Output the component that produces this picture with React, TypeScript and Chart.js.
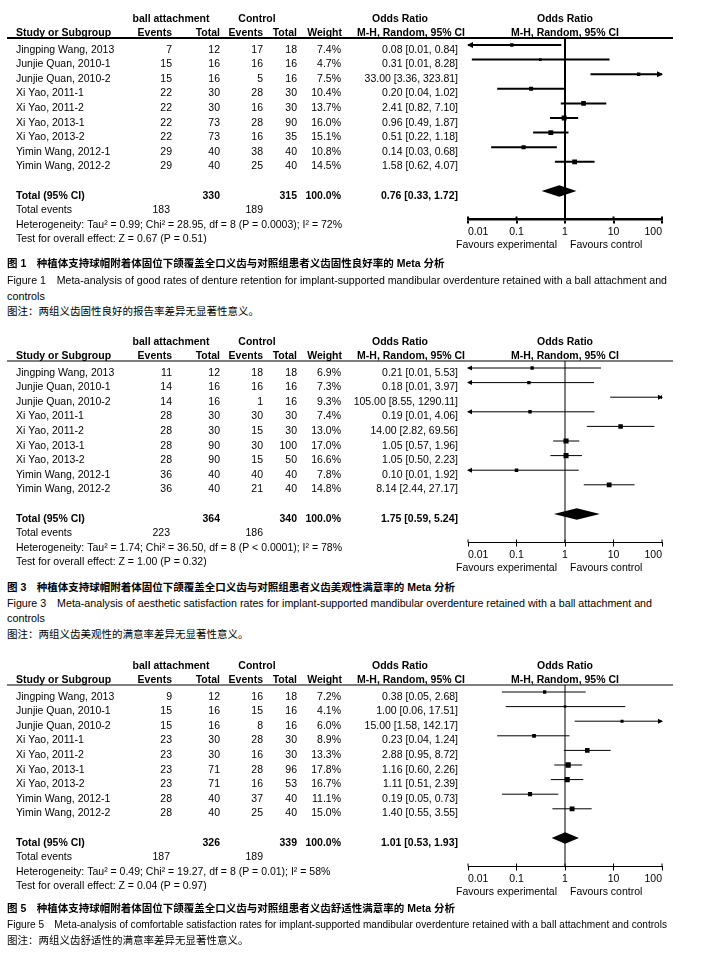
import React, { useEffect, useLayoutEffect, useRef } from "react";
import { Chart, registerables } from "chart.js";

Chart.register(...registerables);

// ---------- data ----------
const STUDIES = [
  "Jingping Wang, 2013",
  "Junjie Quan, 2010-1",
  "Junjie Quan, 2010-2",
  "Xi Yao, 2011-1",
  "Xi Yao, 2011-2",
  "Xi Yao, 2013-1",
  "Xi Yao, 2013-2",
  "Yimin Wang, 2012-1",
  "Yimin Wang, 2012-2",
];
const TICK_VALUES = [0.01, 0.1, 1, 10, 100];
const TICK_LABELS = ["0.01", "0.1", "1", "10", "100"];
const TOTAL_WEIGHT = 100.0;

// Figure 1: good rates of denture retention
const F1_EXP_EVENTS = [7, 15, 15, 22, 22, 22, 22, 29, 29];
const F1_EXP_TOTAL = [12, 16, 16, 30, 30, 73, 73, 40, 40];
const F1_CTL_EVENTS = [17, 16, 5, 28, 16, 28, 16, 38, 25];
const F1_CTL_TOTAL = [18, 16, 16, 30, 30, 90, 35, 40, 40];
const F1_WEIGHT = [7.4, 4.7, 7.5, 10.4, 13.7, 16.0, 15.1, 10.8, 14.5];
const F1_OR = [0.08, 0.31, 33.0, 0.2, 2.41, 0.96, 0.51, 0.14, 1.58];
const F1_LOW = [0.008, 0.012, 3.36, 0.04, 0.82, 0.49, 0.22, 0.03, 0.62];
const F1_HIGH = [0.84, 8.28, 323.81, 1.02, 7.1, 1.87, 1.18, 0.68, 4.07];
const F1_TOTALS = [330, 315];
const F1_TOTAL_EVENTS = [183, 189];
const F1_POOLED = [0.76, 0.33, 1.72];
const F1_HET = "Heterogeneity: Tau² = 0.99; Chi² = 28.95, df = 8 (P = 0.0003); I² = 72%";
const F1_TEST = "Test for overall effect: Z = 0.67 (P = 0.51)";

// Figure 3: aesthetic satisfaction rates
const F3_EXP_EVENTS = [11, 14, 14, 28, 28, 28, 28, 36, 36];
const F3_EXP_TOTAL = [12, 16, 16, 30, 30, 90, 90, 40, 40];
const F3_CTL_EVENTS = [18, 16, 1, 30, 15, 30, 15, 40, 21];
const F3_CTL_TOTAL = [18, 16, 16, 30, 30, 100, 50, 40, 40];
const F3_WEIGHT = [6.9, 7.3, 9.3, 7.4, 13.0, 17.0, 16.6, 7.8, 14.8];
const F3_OR = [0.21, 0.18, 105.0, 0.19, 14.0, 1.05, 1.05, 0.1, 8.14];
const F3_LOW = [0.008, 0.008, 8.55, 0.009, 2.82, 0.57, 0.5, 0.0052, 2.44];
const F3_HIGH = [5.53, 3.97, 1290.11, 4.06, 69.56, 1.96, 2.23, 1.92, 27.17];
const F3_TOTALS = [364, 340];
const F3_TOTAL_EVENTS = [223, 186];
const F3_POOLED = [1.75, 0.59, 5.24];
const F3_HET = "Heterogeneity: Tau² = 1.74; Chi² = 36.50, df = 8 (P < 0.0001); I² = 78%";
const F3_TEST = "Test for overall effect: Z = 1.00 (P = 0.32)";

// Figure 5: comfortable satisfaction rates
const F5_EXP_EVENTS = [9, 15, 15, 23, 23, 23, 23, 28, 28];
const F5_EXP_TOTAL = [12, 16, 16, 30, 30, 71, 71, 40, 40];
const F5_CTL_EVENTS = [16, 15, 8, 28, 16, 28, 16, 37, 25];
const F5_CTL_TOTAL = [18, 16, 16, 30, 30, 96, 53, 40, 40];
const F5_WEIGHT = [7.2, 4.1, 6.0, 8.9, 13.3, 17.8, 16.7, 11.1, 15.0];
const F5_OR = [0.38, 1.0, 15.0, 0.23, 2.88, 1.16, 1.11, 0.19, 1.4];
const F5_LOW = [0.05, 0.06, 1.58, 0.04, 0.95, 0.6, 0.51, 0.05, 0.55];
const F5_HIGH = [2.68, 17.51, 142.17, 1.24, 8.72, 2.26, 2.39, 0.73, 3.55];
const F5_TOTALS = [326, 339];
const F5_TOTAL_EVENTS = [187, 189];
const F5_POOLED = [1.01, 0.53, 1.93];
const F5_HET = "Heterogeneity: Tau² = 0.49; Chi² = 19.27, df = 8 (P = 0.01); I² = 58%";
const F5_TEST = "Test for overall effect: Z = 0.04 (P = 0.97)";

// ---------- layout ----------
const W = 713;
const CANVAS_H = 256;
const HEAD_OFFSET = 38; // header line y inside canvas
const ROW_PITCH = 14.6;
const FIRST_ROW_DY = 7;
const AREA_H = 181.5;
const Y_MIN = -FIRST_ROW_DY / ROW_PITCH;
const Y_MAX = Y_MIN + AREA_H / ROW_PITCH;
const AXIS_H = 30;
const TOTAL_ROW = 10;
const FONT = '"Liberation Sans", Arial, sans-serif';
const CJK = '"Liberation Sans", "Noto Sans CJK SC", sans-serif';
const COL = { study: 16, expEvents: 172, expTotal: 220, ctlEvents: 263, ctlTotal: 297, weight: 341, ci: 458 };

type Panel = {
  expEvents: number[]; expTotal: number[]; ctlEvents: number[]; ctlTotal: number[];
  weight: number[]; or: number[]; low: number[]; high: number[];
  totals: number[]; totalEvents: number[]; pooled: number[]; het: string; test: string;
  thick: boolean;
};

const PANELS: Panel[] = [
  { expEvents: F1_EXP_EVENTS, expTotal: F1_EXP_TOTAL, ctlEvents: F1_CTL_EVENTS, ctlTotal: F1_CTL_TOTAL,
    weight: F1_WEIGHT, or: F1_OR, low: F1_LOW, high: F1_HIGH, totals: F1_TOTALS, totalEvents: F1_TOTAL_EVENTS,
    pooled: F1_POOLED, het: F1_HET, test: F1_TEST, thick: true },
  { expEvents: F3_EXP_EVENTS, expTotal: F3_EXP_TOTAL, ctlEvents: F3_CTL_EVENTS, ctlTotal: F3_CTL_TOTAL,
    weight: F3_WEIGHT, or: F3_OR, low: F3_LOW, high: F3_HIGH, totals: F3_TOTALS, totalEvents: F3_TOTAL_EVENTS,
    pooled: F3_POOLED, het: F3_HET, test: F3_TEST, thick: false },
  { expEvents: F5_EXP_EVENTS, expTotal: F5_EXP_TOTAL, ctlEvents: F5_CTL_EVENTS, ctlTotal: F5_CTL_TOTAL,
    weight: F5_WEIGHT, or: F5_OR, low: F5_LOW, high: F5_HIGH, totals: F5_TOTALS, totalEvents: F5_TOTAL_EVENTS,
    pooled: F5_POOLED, het: F5_HET, test: F5_TEST, thick: false },
];
const PANEL_TOPS = [0, 323, 647];

const fmtCI = (e: number, l: number, h: number) => `${e.toFixed(2)} [${l.toFixed(2)}, ${h.toFixed(2)}]`;

function makePlugin(p: Panel) {
  const st = p.thick
    ? { vW: 2, headW: 2, tickW: 2, arrowL: 6, arrowH: 3 }
    : { vW: 1, headW: 1.2, tickW: 1, arrowL: 5, arrowH: 2.5 };
  return {
    id: "forest",
    afterDraw(chart: any) {
      const { ctx, chartArea: ca, scales } = chart;
      const xs = scales.x, ys = scales.y;
      const X = (v: number) => xs.getPixelForValue(v);
      const Y = (v: number) => ys.getPixelForValue(v);
      const x1 = X(1);
      ctx.save();
      ctx.fillStyle = "#000";
      ctx.strokeStyle = "#000";

      // header line
      ctx.lineWidth = st.headW;
      ctx.beginPath();
      ctx.moveTo(7, ca.top);
      ctx.lineTo(ca.right + 11, ca.top);
      ctx.stroke();

      // line of no effect
      ctx.lineWidth = st.vW;
      ctx.beginPath();
      ctx.moveTo(x1, ca.top);
      ctx.lineTo(x1, ca.bottom);
      ctx.stroke();

      // upward tick stubs
      ctx.lineWidth = st.tickW;
      TICK_VALUES.forEach((v) => {
        const x = X(v);
        ctx.beginPath();
        ctx.moveTo(x, ca.bottom);
        ctx.lineTo(x, ca.bottom - 3);
        ctx.stroke();
      });

      // arrows for clipped CIs
      p.low.forEach((lo, i) => {
        const y = Y(i);
        if (lo < xs.min) {
          const x = ca.left - 1;
          ctx.beginPath();
          ctx.moveTo(x, y);
          ctx.lineTo(x + st.arrowL, y - st.arrowH);
          ctx.lineTo(x + st.arrowL, y + st.arrowH);
          ctx.closePath();
          ctx.fill();
        }
        if (p.high[i] > xs.max) {
          const x = ca.right + 1;
          ctx.beginPath();
          ctx.moveTo(x, y);
          ctx.lineTo(x - st.arrowL, y - st.arrowH);
          ctx.lineTo(x - st.arrowL, y + st.arrowH);
          ctx.closePath();
          ctx.fill();
        }
      });

      // pooled diamond
      const dy = Y(TOTAL_ROW);
      const dh = 5.8;
      ctx.beginPath();
      ctx.moveTo(X(p.pooled[1]), dy);
      ctx.lineTo(X(p.pooled[0]), dy - dh);
      ctx.lineTo(X(p.pooled[2]), dy);
      ctx.lineTo(X(p.pooled[0]), dy + dh);
      ctx.closePath();
      ctx.fill();

      // table text
      const base = (row: number) => Y(row) + 7.5;
      const txt = (s: string, x: number, row: number, align: CanvasTextAlign, bold = false) => {
        ctx.font = `${bold ? "bold " : ""}10.5px ${FONT}`;
        ctx.textAlign = align;
        ctx.textBaseline = "alphabetic";
        ctx.fillText(s, x, base(row));
      };
      // headers
      txt("ball attachment", 171, -2.1, "center", true);
      txt("Control", 257, -2.1, "center", true);
      txt("Odds Ratio", 400, -2.1, "center", true);
      txt("Odds Ratio", x1, -2.1, "center", true);
      txt("Study or Subgroup", COL.study, -1.1, "left", true);
      txt("Events", COL.expEvents, -1.1, "right", true);
      txt("Total", COL.expTotal, -1.1, "right", true);
      txt("Events", COL.ctlEvents, -1.1, "right", true);
      txt("Total", COL.ctlTotal, -1.1, "right", true);
      txt("Weight", COL.weight + 1, -1.1, "right", true);
      txt("M-H, Random, 95% CI", 465, -1.1, "right", true);
      txt("M-H, Random, 95% CI", x1, -1.1, "center", true);
      // studies
      STUDIES.forEach((name, i) => {
        txt(name, COL.study, i, "left");
        txt(String(p.expEvents[i]), COL.expEvents, i, "right");
        txt(String(p.expTotal[i]), COL.expTotal, i, "right");
        txt(String(p.ctlEvents[i]), COL.ctlEvents, i, "right");
        txt(String(p.ctlTotal[i]), COL.ctlTotal, i, "right");
        txt(`${p.weight[i].toFixed(1)}%`, COL.weight, i, "right");
        txt(fmtCI(p.or[i], p.low[i], p.high[i]), COL.ci, i, "right");
      });
      // totals
      txt("Total (95% CI)", COL.study, TOTAL_ROW, "left", true);
      txt(String(p.totals[0]), COL.expTotal, TOTAL_ROW, "right", true);
      txt(String(p.totals[1]), COL.ctlTotal, TOTAL_ROW, "right", true);
      txt(`${TOTAL_WEIGHT.toFixed(1)}%`, COL.weight, TOTAL_ROW, "right", true);
      txt(fmtCI(p.pooled[0], p.pooled[1], p.pooled[2]), COL.ci, TOTAL_ROW, "right", true);
      txt("Total events", COL.study, TOTAL_ROW + 1, "left");
      txt(String(p.totalEvents[0]), COL.expEvents - 2, TOTAL_ROW + 1, "right");
      txt(String(p.totalEvents[1]), COL.ctlEvents, TOTAL_ROW + 1, "right");
      txt(p.het, COL.study, TOTAL_ROW + 2, "left");
      txt(p.test, COL.study, TOTAL_ROW + 3, "left");

      // favours labels
      ctx.font = `10.5px ${FONT}`;
      ctx.textBaseline = "alphabetic";
      const fy = ca.bottom + 25 + 3.8;
      ctx.textAlign = "right";
      ctx.fillText("Favours experimental", x1 - 8, fy);
      ctx.textAlign = "left";
      ctx.fillText("Favours control", x1 + 5, fy);
      ctx.restore();
    },
  };
}

function ForestChart({ panel, top }: { panel: Panel; top: number }) {
  const ref = useRef<HTMLCanvasElement>(null);
  useEffect(() => {
    const lw = panel.thick ? 2 : 1;
    const axisW = panel.thick ? 2.5 : 1;
    const datasets: any[] = STUDIES.map((_, i) => ({
      type: "scatter",
      data: [
        { x: panel.low[i], y: i },
        { x: panel.high[i], y: i },
      ],
      showLine: true,
      borderColor: "#000",
      borderWidth: lw,
      pointRadius: 0,
      pointHoverRadius: 0,
    }));
    datasets.push({
      type: "scatter",
      data: panel.or.map((v, i) => ({ x: v, y: i })),
      pointStyle: "rect",
      pointRadius: (c: any) => (1.25 * Math.sqrt(panel.weight[c.dataIndex] ?? 0)) / Math.SQRT2,
      pointHoverRadius: (c: any) => (1.25 * Math.sqrt(panel.weight[c.dataIndex] ?? 0)) / Math.SQRT2,
      backgroundColor: "#000",
      borderWidth: 0,
      showLine: false,
    });
    const chart = new Chart(ref.current as HTMLCanvasElement, {
      type: "scatter",
      data: { datasets },
      options: {
        animation: false,
        responsive: false,
        events: [],
        layout: {
          padding: {
            top: HEAD_OFFSET,
            left: 468,
            right: W - 662,
            bottom: CANVAS_H - HEAD_OFFSET - AREA_H - AXIS_H,
          },
        },
        plugins: { legend: { display: false }, tooltip: { enabled: false } },
        scales: {
          x: {
            type: "logarithmic",
            min: TICK_VALUES[0],
            max: TICK_VALUES[TICK_VALUES.length - 1],
            position: "bottom",
            afterBuildTicks: (s: any) => {
              s.ticks = TICK_VALUES.map((v) => ({ value: v }));
            },
            afterFit: (s: any) => {
              s.height = AXIS_H;
            },
            ticks: {
              callback: (_v: any, idx: number) => TICK_LABELS[idx],
              align: "inner",
              autoSkip: false,
              maxRotation: 0,
              color: "#000",
              padding: 2,
              font: { family: FONT, size: 10.5 },
            },
            grid: {
              display: true,
              drawOnChartArea: false,
              drawTicks: true,
              tickLength: 4,
              color: "#000",
              lineWidth: lw,
            },
            border: { display: true, color: "#000", width: axisW },
          },
          y: { type: "linear", display: false, reverse: true, min: Y_MIN, max: Y_MAX },
        },
      } as any,
      plugins: [makePlugin(panel)],
    });
    return () => chart.destroy();
  }, [panel]);
  return (
    <canvas
      ref={ref}
      width={W}
      height={CANVAS_H}
      style={{ position: "absolute", left: 0, top, width: W, height: CANVAS_H }}
    />
  );
}

function Caption({ text, top, width, bold, cjk }: { text: string; top: number; width?: number; bold?: boolean; cjk?: boolean }) {
  const ref = useRef<HTMLSpanElement>(null);
  useLayoutEffect(() => {
    const el = ref.current;
    if (!el || !width) return;
    el.style.transform = "none";
    const w = el.getBoundingClientRect().width;
    if (w > 0) el.style.transform = `scaleX(${width / w})`;
  }, [text, width]);
  return (
    <div
      style={{
        position: "absolute",
        left: 7,
        top,
        whiteSpace: "nowrap",
        lineHeight: "16px",
        fontSize: cjk ? 10.5 : 10.8,
        fontFamily: cjk ? CJK : FONT,
        fontWeight: bold ? 700 : 400,
        color: "#000",
      }}
    >
      <span ref={ref} style={{ display: "inline-block", transformOrigin: "0 50%" }}>
        {text}
      </span>
    </div>
  );
}

const CAPTIONS = [
  { text: "图 1　种植体支持球帽附着体固位下颌覆盖全口义齿与对照组患者义齿固性良好率的 Meta 分析", top: 255, bold: true, cjk: true },
  { text: "Figure 1　Meta-analysis of good rates of denture retention for implant-supported mandibular overdenture retained with a ball attachment and", top: 272, width: 660 },
  { text: "controls", top: 288 },
  { text: "图注：两组义齿固性良好的报告率差异无显著性意义。", top: 303, cjk: true },
  { text: "图 3　种植体支持球帽附着体固位下颌覆盖全口义齿与对照组患者义齿美观性满意率的 Meta 分析", top: 579, bold: true, cjk: true },
  { text: "Figure 3　Meta-analysis of aesthetic satisfaction rates for implant-supported mandibular overdenture retained with a ball attachment and", top: 595, width: 645 },
  { text: "controls", top: 610 },
  { text: "图注：两组义齿美观性的满意率差异无显著性意义。", top: 626, cjk: true },
  { text: "图 5　种植体支持球帽附着体固位下颌覆盖全口义齿与对照组患者义齿舒适性满意率的 Meta 分析", top: 900, bold: true, cjk: true },
  { text: "Figure 5　Meta-analysis of comfortable satisfaction rates for implant-supported mandibular overdenture retained with a ball attachment and controls", top: 916, width: 660 },
  { text: "图注：两组义齿舒适性的满意率差异无显著性意义。", top: 932, cjk: true },
];

export default function App() {
  return (
    <div style={{ position: "absolute", left: 0, top: 0, width: W, height: 965, background: "#fff", overflow: "hidden" }}>
      {PANELS.map((p, i) => (
        <ForestChart key={i} panel={p} top={PANEL_TOPS[i]} />
      ))}
      {CAPTIONS.map((c, i) => (
        <Caption key={i} text={c.text} top={c.top} width={(c as any).width} bold={(c as any).bold} cjk={(c as any).cjk} />
      ))}
    </div>
  );
}
